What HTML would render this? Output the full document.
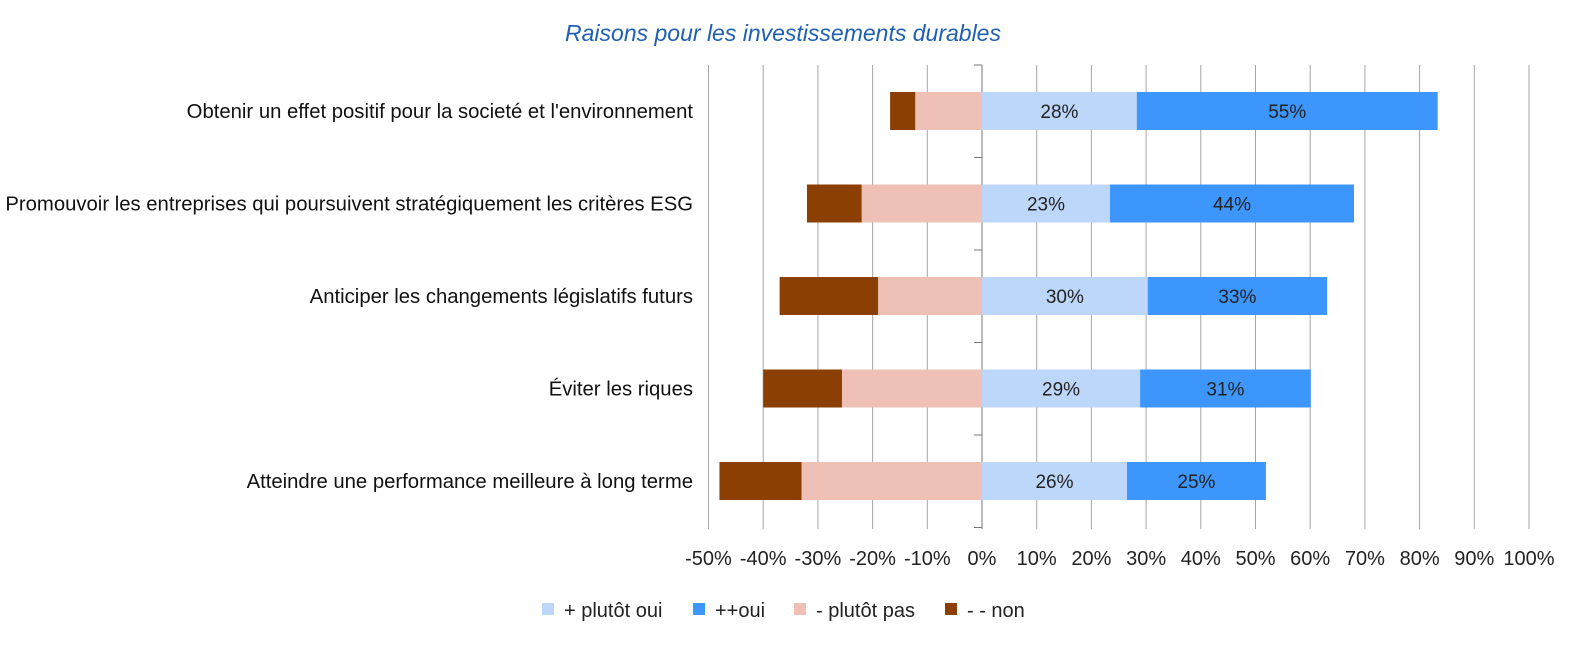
<!DOCTYPE html>
<html><head><meta charset="utf-8"><style>
body{margin:0;background:#fff;width:1577px;height:647px;overflow:hidden;font-family:"Liberation Sans",sans-serif}
</style></head><body>
<svg id="chart" width="1577" height="647" xmlns="http://www.w3.org/2000/svg">
<text x="783" y="41" text-anchor="middle" font-size="23" font-style="italic" fill="#1f5fb4">Raisons pour les investissements durables</text>
<g id="grid"></g><g id="bars"></g><g id="labels"></g><g id="legend"></g>
</svg>
<script>
const categories=["Obtenir un effet positif pour la societé et l'environnement","Promouvoir les entreprises qui poursuivent stratégiquement les critères ESG","Anticiper les changements législatifs futurs","Éviter les riques","Atteindre une performance meilleure à long terme"];
const plutotOui=[28.3,23.4,30.3,28.9,26.5];
const oui=[55,44.6,32.8,31.2,25.4];
const plutotPas=[12.2,22,19,25.6,33];
const non=[4.6,10,18,14.4,15];
const ouiLabels=["55%","44%","33%","31%","25%"];
const plutotOuiLabels=["28%","23%","30%","29%","26%"];
const ticks=[-50,-40,-30,-20,-10,0,10,20,30,40,50,60,70,80,90,100];
const NS="http://www.w3.org/2000/svg";
const x=v=>982+v*5.47;
const yc=i=>111+i*92.5;
const H=38;
function mk(p,t,a){const e=document.createElementNS(NS,t);for(const k in a)e.setAttribute(k,a[k]);p.appendChild(e);return e;}
const grid=document.getElementById('grid'),bars=document.getElementById('bars'),labels=document.getElementById('labels'),legend=document.getElementById('legend');
ticks.forEach(t=>{
  const l=mk(grid,'line',{x1:x(t),x2:x(t),y1:65,y2:529,stroke:t===0?'#777':'#a6a6a6','stroke-width':1});
  
  
  const tx=mk(labels,'text',{x:x(t),y:565,'text-anchor':'middle','font-size':20,fill:'#222'});
  tx.textContent=t+'%';
  
  
});
for(let i=0;i<=5;i++){const tk=mk(grid,'line',{x1:x(0)-8,x2:x(0),y1:65+i*92.5,y2:65+i*92.5,stroke:'#777'});

}
categories.forEach((c,i)=>{
  const y0=yc(i)-H/2;
  const segs=[[0,plutotOui[i],'#bdd7fb','bar-plutot-oui'],[plutotOui[i],plutotOui[i]+oui[i],'#3d96fb','bar-oui'],[-plutotPas[i],0,'#eec0b6','bar-plutot-pas'],[-plutotPas[i]-non[i],-plutotPas[i],'#8b3f03','bar-non']];
  segs.forEach(s=>{const r=mk(bars,'rect',{x:x(s[0]),y:y0,width:x(s[1])-x(s[0]),height:H,fill:s[2]});
    
    });
  const a=mk(labels,'text',{x:(x(0)+x(plutotOui[i]))/2,y:yc(i)+7,'text-anchor':'middle','font-size':19,fill:'#222'});a.textContent=plutotOuiLabels[i];
  
  
  const b=mk(labels,'text',{x:(x(plutotOui[i])+x(plutotOui[i]+oui[i]))/2,y:yc(i)+7,'text-anchor':'middle','font-size':19,fill:'#222'});b.textContent=ouiLabels[i];
  
  
  const ct=mk(labels,'text',{x:693,y:yc(i)+7,'text-anchor':'end','font-size':20.3,fill:'#111'});ct.textContent=c;
  
  
});
const leg=[['#bdd7fb','+ plutôt oui',542],['#3d96fb','++oui',693],['#eec0b6','- plutôt pas',794],['#8b3f03','- - non',945]];
leg.forEach(l=>{
  const r=mk(legend,'rect',{x:l[2],y:603,width:12,height:12,fill:l[0]});
  
  
  const t=mk(legend,'text',{x:l[2]+22,y:617,'font-size':20,fill:'#222'});t.textContent=l[1];
  
  
});
</script>
</body></html>
